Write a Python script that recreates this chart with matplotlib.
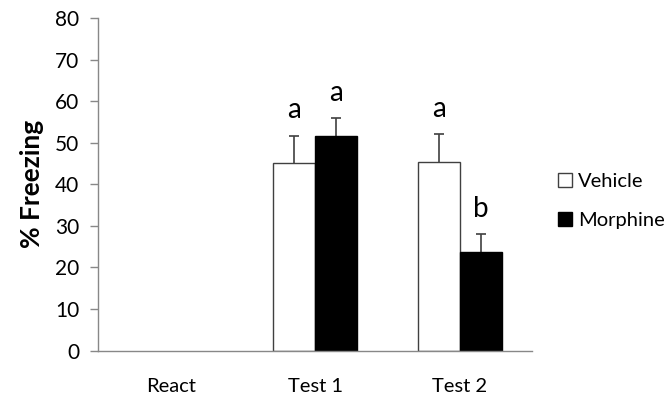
import matplotlib.pyplot as plt
import numpy as np

plt.rcParams['font.family'] = ['Lato', 'DejaVu Sans']

# Group means and SEM (% freezing)
sessions = ['React', 'Test 1', 'Test 2']
vehicle = [np.nan, 45.1, 45.4]
vehicle_err = [np.nan, 6.6, 6.6]
morphine = [np.nan, 51.7, 23.8]
morphine_err = [np.nan, 4.2, 4.2]
vehicle_sig = ['', 'a', 'a']
morphine_sig = ['', 'a', 'b']

fig = plt.figure(figsize=(6.7, 3.98), dpi=100)
ax = fig.add_axes([0.147, 0.119, 0.647, 0.836])

x = np.arange(len(sessions))
w = 0.29
edge = '#404040'

ax.bar(x - w / 2, vehicle, w, color='white', edgecolor=edge, linewidth=1,
       label='Vehicle', zorder=2)
ax.bar(x + w / 2, morphine, w, color='black', edgecolor='black', linewidth=1,
       label='Morphine', zorder=2)

# upward-only error bars, hide the cap sitting on the bar top
for xs, vals, errs in [(x - w / 2, vehicle, vehicle_err),
                       (x + w / 2, morphine, morphine_err)]:
    eb = ax.errorbar(xs, vals, yerr=[np.zeros(3), errs], fmt='none',
                     ecolor=edge, elinewidth=1.2, capsize=3.5, capthick=1.2,
                     zorder=1)
    eb.lines[1][0].set_visible(False)

# significance letters
for xs, vals, errs, sig in [(x - w / 2, vehicle, vehicle_err, vehicle_sig),
                            (x + w / 2, morphine, morphine_err, morphine_sig)]:
    for xi, v, e, s in zip(xs, vals, errs, sig):
        if s:
            ax.annotate(s, (xi, v + e), xytext=(0, 12.6),
                        textcoords='offset points', ha='center',
                        va='baseline', fontsize=20)

ax.set_xlim(-0.5, 2.5)
ax.set_ylim(0, 80)
ax.set_yticks(range(0, 81, 10))
ax.set_xticks(x)
ax.set_xticklabels(sessions)
ax.tick_params(axis='x', length=0, pad=20, labelsize=14.5)
ax.tick_params(axis='y', length=6, width=1, color='#888888', pad=8, labelsize=15)

for side in ['top', 'right']:
    ax.spines[side].set_visible(False)
for side in ['left', 'bottom']:
    ax.spines[side].set_color('#888888')
    ax.spines[side].set_linewidth(1)

ax.set_ylabel('% Freezing', fontsize=19, fontweight='bold', labelpad=8)

ax.legend(loc='center left', bbox_to_anchor=(1.0, 0.45), frameon=False,
          fontsize=14.5, handlelength=0.7, handleheight=0.7, handletextpad=0.3,
          labelspacing=1.1, borderaxespad=0.9)

fig.savefig('out.png', dpi=100)
